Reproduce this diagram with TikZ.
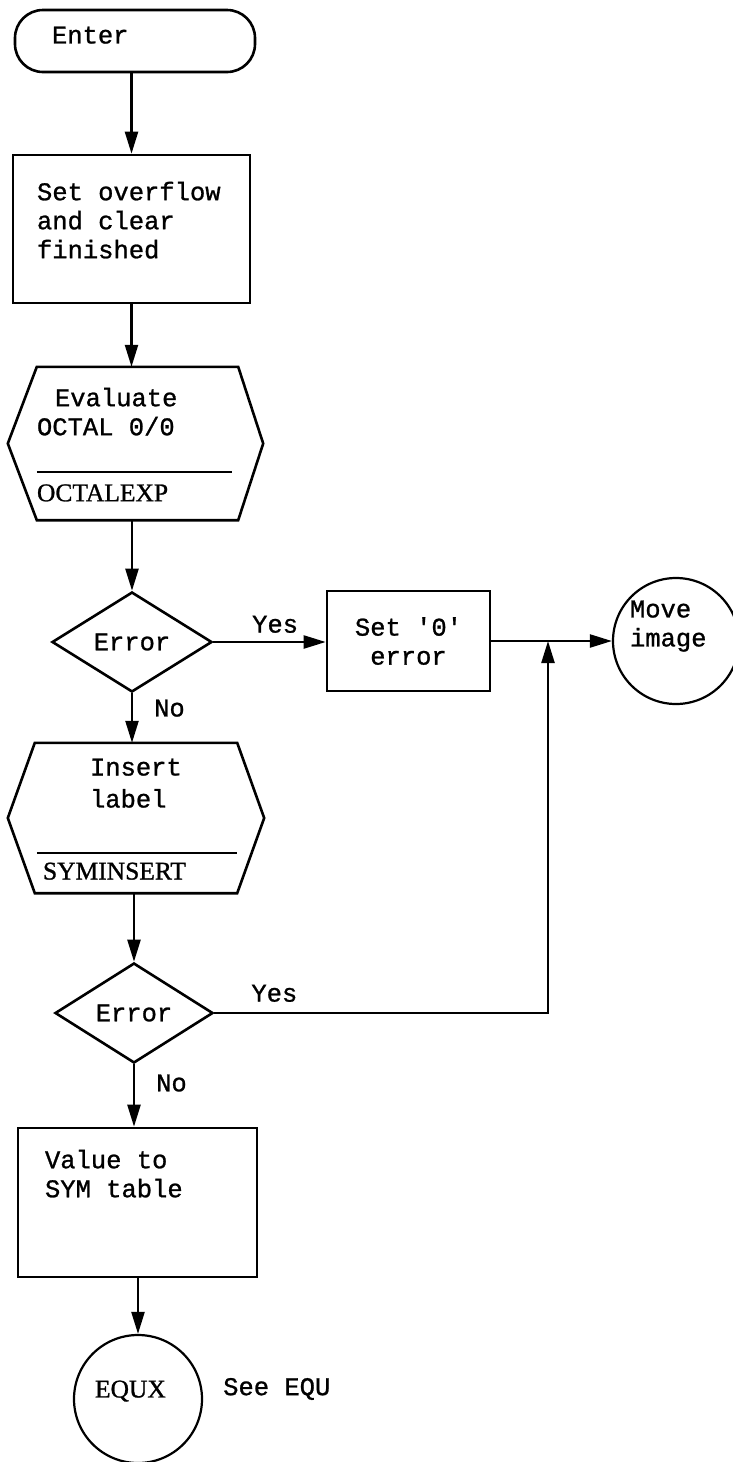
\documentclass[tikz,border=0pt]{standalone}
\usepackage{fontspec}
\usepackage{tikz}
\usetikzlibrary{shapes.geometric,arrows.meta,positioning,calc}
\newfontfamily\typerfont[WordSpace={1,0,0},FakeBold=1]{Liberation Mono}
\newfontfamily\labelfont[FakeBold=1]{Liberation Serif}
\newcommand{\twtext}{\typerfont\fontsize{25.5}{29}\selectfont}
\newcommand{\symtext}{\labelfont\fontsize{25.5}{29}\selectfont}

\begin{document}
\begin{tikzpicture}[
    x=1pt, y=-1pt,
    >={Triangle[length=22pt, width=13pt]},
    term/.style={rectangle, rounded corners=28pt, draw, line width=2.6pt, font=\twtext, align=flush left, inner sep=0pt},
    proc/.style={rectangle, draw, line width=2.6pt, inner sep=0pt, font=\twtext, align=flush left},
    hexbody/.style={rectangle, inner sep=0pt, align=flush left, font=\twtext},
    hexline/.style={line width=2.6pt, line join=miter},
    decision/.style={diamond, draw, line width=2.6pt, inner sep=0pt, minimum width=160pt, minimum height=100pt, font=\twtext},
    conn/.style={circle, draw, line width=2.2pt, inner sep=0pt, minimum size=128pt},
    arrow/.style={->, line width=2.3pt},
    lbl/.style={font=\twtext, inner sep=0pt},
]
\useasboundingbox (0,0) rectangle (732,1462);
\fill[white] (0,0) rectangle (732,1462);

% main column
\node[term, minimum width=240pt, minimum height=62pt, text width=166pt, text depth=12pt] (enter) at (135,41) {Enter};
\node[proc, minimum width=237pt, minimum height=148pt, text width=189pt, text depth=76pt] (setovf) at (131.5,229) {Set overflow\\and clear\\finished};

\node[hexbody, minimum width=201pt, minimum height=153pt, text width=201pt, text depth=93pt] (eval) at (137.5,443.5) {\hspace*{18pt}Evaluate\\OCTAL 0/0\\[37pt]{\symtext OCTALEXP}};
\draw[hexline] (eval.north west) -- (eval.north east) -- ($(eval.east)+(25,0)$) -- (eval.south east) -- (eval.south west) -- ($(eval.west)+(-29,0)$) -- cycle;
\draw[line width=2.4pt] ($(eval.west)+(0,28.5)$) -- ++(195,0);

\node[decision] (err1) at (132,642) {Error};
\node[proc, align=center, minimum width=163pt, minimum height=100pt] (seterr) at (408.5,641) {Set \textquotesingle 0\textquotesingle\\error};
\node[conn, minimum size=126pt, text width=92pt, align=flush left, text depth=64pt, font=\twtext] (move) at (676,641) {Move\\image};
\coordinate (junc) at (548,641);

\node[hexbody, minimum width=202pt, minimum height=150pt, text width=202pt, text depth=102pt] (ins) at (136,818) {\hspace*{55pt}Insert\\[3pt]\hspace*{55pt}label\\[43pt]\hspace*{8pt}{\symtext SYMINSERT}};
\draw[hexline] (ins.north west) -- (ins.north east) -- ($(ins.east)+(27,0)$) -- (ins.south east) -- (ins.south west) -- ($(ins.west)+(-27,0)$) -- cycle;
\draw[line width=2.4pt] ($(ins.west)+(2,35)$) -- ++(200,0);

\node[decision, minimum width=158pt] (err2) at (134,1013) {Error};
\node[proc, minimum width=239pt, minimum height=149pt, text width=185pt, text depth=87pt] (val) at (137.5,1202.5) {Value to\\SYM table};
\node[conn, font=\symtext, text width=86pt, align=flush left, text depth=20pt] (equx) at (138,1399) {EQUX};
\node[lbl, anchor=west] (seeequ) at (223,1389) {See EQU};

% connectors
\draw[arrow] (enter.south -| setovf.north) -- (setovf.north);
\draw[arrow] (setovf.south) -- (setovf.south |- eval.north);
\draw[arrow] (err1.north |- eval.south) -- (err1.north);
\draw[arrow] (err1.south) -- node[lbl, anchor=west, xshift=21pt, pos=0.3] {No} (err1.south |- ins.north);
\draw[arrow] (err1.east) -- node[lbl, above=8pt, pos=0.55] {Yes} (err1.east -| seterr.west);
\draw[arrow] (seterr.east) -- (move.west);
\draw[arrow] (err2.north |- ins.south) -- (err2.north);
\draw[arrow] (err2.east) -| node[lbl, above=10pt, pos=0.09] {Yes} (junc);
\draw[arrow] (err2.south) -- node[lbl, anchor=west, xshift=21pt, pos=0.3] {No} (err2.south |- val.north);
\draw[arrow] (equx.north |- val.south) -- (equx.north);
\end{tikzpicture}
\end{document}
